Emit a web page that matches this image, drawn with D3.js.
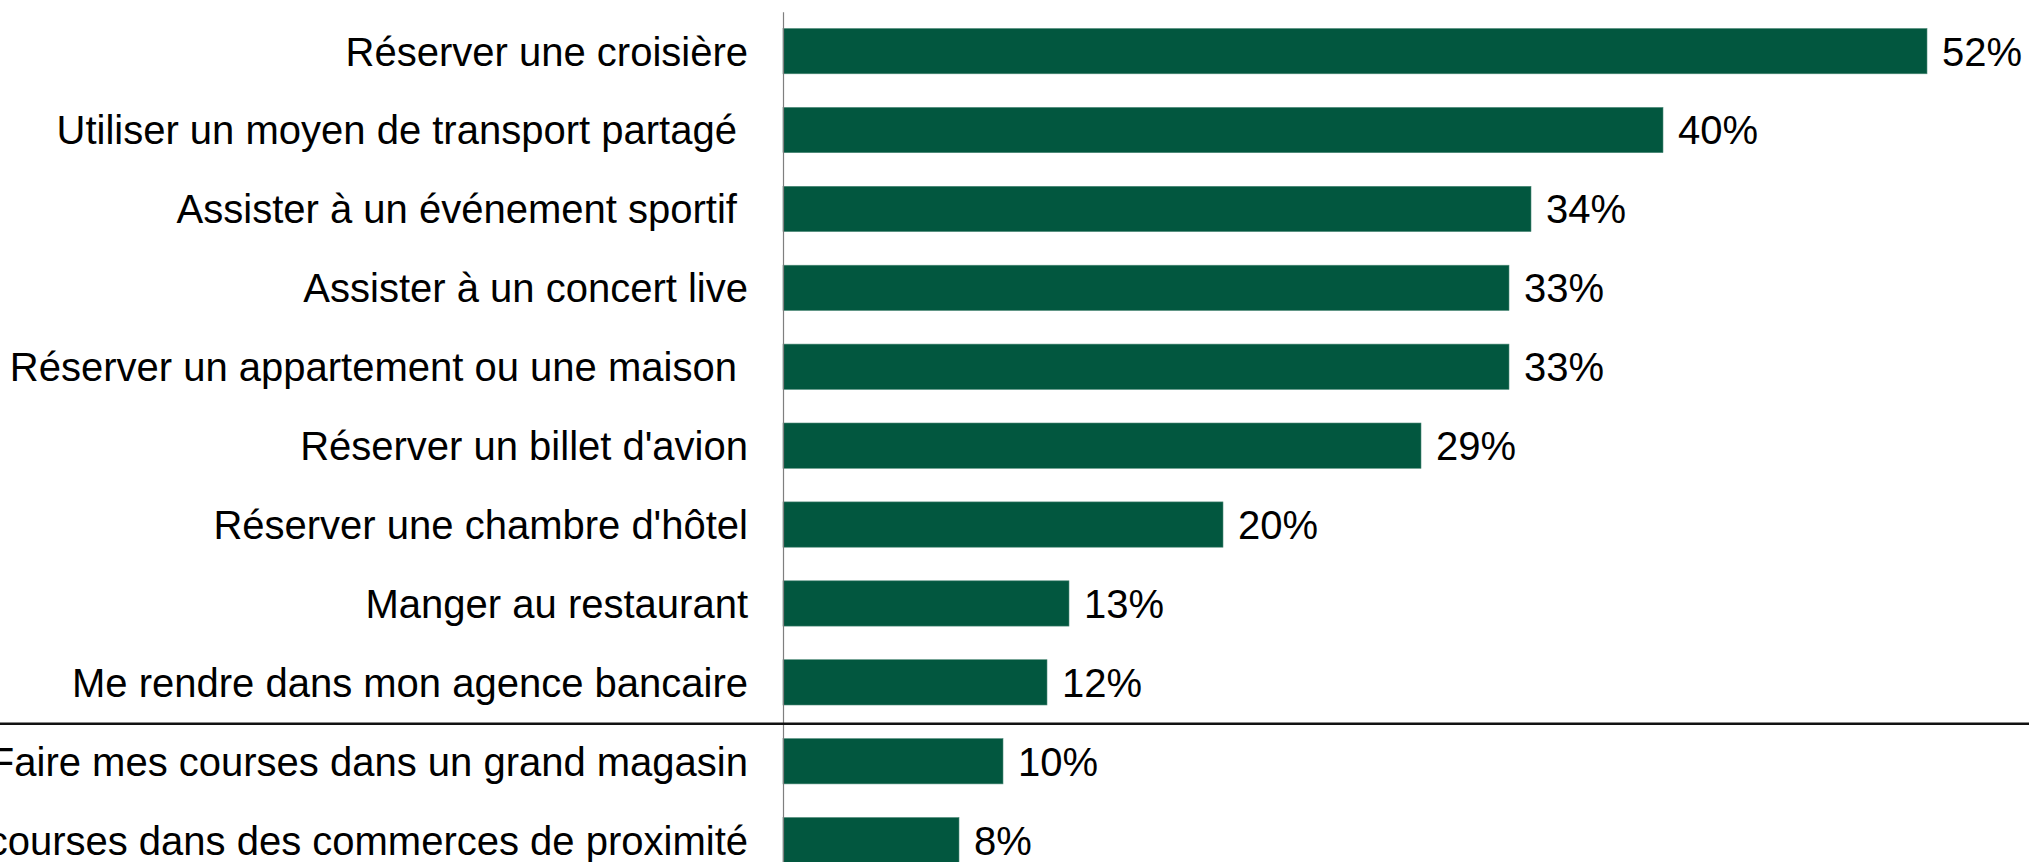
<!DOCTYPE html>
<html>
<head>
<meta charset="utf-8">
<script src="https://cdn.jsdelivr.net/npm/d3@7"></script>
<style>
  html, body { margin: 0; padding: 0; background: #ffffff; overflow: hidden; }
  svg { display: block; }
  text { font-family: "Liberation Sans", Arial, sans-serif; fill: #000; white-space: pre; }
</style>
</head>
<body>
<svg id="chart" width="2029" height="862"></svg>
<script>
const categories = [
  "Réserver une croisière",
  "Utiliser un moyen de transport partagé ",
  "Assister à un événement sportif ",
  "Assister à un concert live",
  "Réserver un appartement ou une maison ",
  "Réserver un billet d'avion",
  "Réserver une chambre d'hôtel",
  "Manger au restaurant",
  "Me rendre dans mon agence bancaire",
  "Faire mes courses dans un grand magasin",
  "Faire mes courses dans des commerces de proximité"
];
const values = [52, 40, 34, 33, 33, 29, 20, 13, 12, 10, 8];
const valueLabels = ["52%", "40%", "34%", "33%", "33%", "29%", "20%", "13%", "12%", "10%", "8%"];
const separatorBefore = "Faire mes courses dans un grand magasin";

const W = 2029, H = 862;
const svg = d3.select("#chart");

const axisX = 783;
const x = d3.scaleLinear().domain([0, 52]).range([axisX, 1927]);
const y = d3.scaleBand().domain(categories).range([11.7, 879.6]).paddingInner(0.426).paddingOuter(0.213);

const fontSize = 40;

// bars
svg.append("g").selectAll("rect")
  .data(categories)
  .join("rect")
  .attr("x", x(0))
  .attr("y", d => y(d))
  .attr("width", (d, i) => x(values[i]) - x(0))
  .attr("height", y.bandwidth())
  .attr("fill", "#02573f")
  .attr("stroke", "#4f8a78")
  .attr("stroke-width", 0.6);

// value labels
svg.append("g").selectAll("text")
  .data(categories)
  .join("text")
  .attr("x", (d, i) => x(values[i]) + 15)
  .attr("y", d => y(d) + y.bandwidth() / 2)
  .attr("dy", "0.36em")
  .attr("font-size", fontSize)
  .text((d, i) => valueLabels[i]);

// category axis
const gAxis = svg.append("g")
  .attr("transform", `translate(${axisX},0)`)
  .call(d3.axisLeft(y).tickSize(0).tickPadding(35));
gAxis.select(".domain").attr("stroke", "#7f7f7f").attr("stroke-width", 1.2);
gAxis.selectAll(".tick text")
  .attr("font-size", fontSize)
  .attr("font-family", "'Liberation Sans', Arial, sans-serif")
  .attr("fill", "#000")
  .attr("dy", "0.36em")
  .style("white-space", "pre");

// separator line
const sepY = y(separatorBefore) - (y.step() - y.bandwidth()) / 2 + 2;
svg.append("line")
  .attr("x1", 0).attr("x2", W)
  .attr("y1", sepY).attr("y2", sepY)
  .attr("stroke", "#111")
  .attr("stroke-width", 2.5);
</script>
</body>
</html>
